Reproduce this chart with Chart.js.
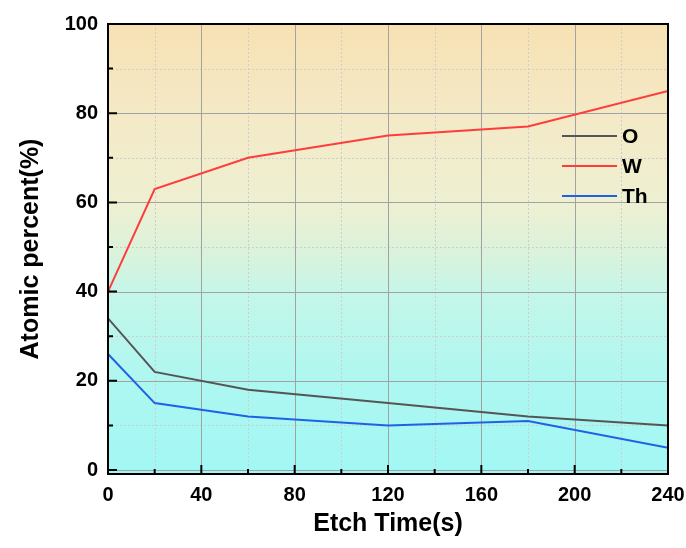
<!DOCTYPE html>
<html>
<head>
<meta charset="utf-8">
<script src="https://cdn.jsdelivr.net/npm/chart.js@4.4.1/dist/chart.umd.min.js"></script>
<style>
html, body { margin: 0; padding: 0; background: #fff; }
canvas { display: block; }
</style>
</head>
<body>
<canvas id="chart" width="686" height="548"></canvas>
<script>
// data
const etchTimes = [0, 20, 60, 120, 180, 240];
const oxygen = [34, 22, 18, 15, 12, 10];
const tungsten = [40, 63, 70, 75, 77, 85];
const thorium = [26, 15, 12, 10, 11, 5];

const xTicks = [0, 40, 80, 120, 160, 200, 240];
const xMinorTicks = [20, 60, 100, 140, 180, 220];
const yTicks = [0, 20, 40, 60, 80, 100];
const yMinorTicks = [10, 30, 50, 70, 90];

const seriesNames = ["O", "W", "Th"];
const seriesColors = ["#555555", "#ff3c3c", "#1f62e6"];

const FONT = "'Liberation Sans', Arial, sans-serif";

// background, grid, frame, ticks and legend
const framePlugin = {
    id: "frame",
    beforeDatasetsDraw(chart) {
        const { ctx, chartArea: a, scales: { x, y } } = chart;
        ctx.save();
        const g = ctx.createLinearGradient(0, a.top, 0, a.bottom);
        g.addColorStop(0, "#f7e1b3");
        g.addColorStop(0.2, "#f4e9c6");
        g.addColorStop(0.4, "#eef0d2");
        g.addColorStop(0.5, "#dcf2da");
        g.addColorStop(0.6, "#c4f6e9");
        g.addColorStop(0.8, "#adf7f1");
        g.addColorStop(1, "#a2f7f4");
        ctx.fillStyle = g;
        ctx.fillRect(a.left, a.top, a.right - a.left, a.bottom - a.top);

        // minor grid, dotted
        ctx.strokeStyle = "#cdcdcd";
        ctx.lineWidth = 1;
        ctx.setLineDash([2, 2]);
        ctx.beginPath();
        xMinorTicks.forEach((v) => {
            const px = Math.round(x.getPixelForValue(v)) + 0.5;
            ctx.moveTo(px, a.top);
            ctx.lineTo(px, a.bottom);
        });
        yMinorTicks.forEach((v) => {
            const py = Math.round(y.getPixelForValue(v)) + 0.5;
            ctx.moveTo(a.left, py);
            ctx.lineTo(a.right, py);
        });
        ctx.stroke();

        // major grid, solid
        ctx.setLineDash([]);
        ctx.strokeStyle = "#a2a2a2";
        ctx.beginPath();
        xTicks.forEach((v) => {
            const px = Math.round(x.getPixelForValue(v)) + 0.5;
            ctx.moveTo(px, a.top);
            ctx.lineTo(px, a.bottom);
        });
        yTicks.forEach((v) => {
            const py = Math.round(y.getPixelForValue(v)) + 0.5;
            ctx.moveTo(a.left, py);
            ctx.lineTo(a.right, py);
        });
        ctx.stroke();
        ctx.restore();
    },
    afterDatasetsDraw(chart) {
        const { ctx, chartArea: a, scales: { x, y } } = chart;
        ctx.save();
        ctx.strokeStyle = "#000";
        ctx.lineWidth = 2;
        ctx.strokeRect(a.left, a.top, a.right - a.left, a.bottom - a.top);

        // inward ticks
        ctx.beginPath();
        yTicks.forEach((v) => {
            const py = y.getPixelForValue(v);
            ctx.moveTo(a.left, py);
            ctx.lineTo(a.left + 9, py);
        });
        yMinorTicks.forEach((v) => {
            const py = y.getPixelForValue(v);
            ctx.moveTo(a.left, py);
            ctx.lineTo(a.left + 5, py);
        });
        xTicks.forEach((v) => {
            const px = x.getPixelForValue(v);
            ctx.moveTo(px, a.bottom);
            ctx.lineTo(px, a.bottom - 9);
        });
        xMinorTicks.forEach((v) => {
            const px = x.getPixelForValue(v);
            ctx.moveTo(px, a.bottom);
            ctx.lineTo(px, a.bottom - 5);
        });
        ctx.stroke();

        // legend inside the plot
        ctx.font = "bold 21px " + FONT;
        ctx.textBaseline = "middle";
        ctx.textAlign = "left";
        seriesNames.forEach((name, i) => {
            const ly = 136 + i * 30;
            ctx.strokeStyle = seriesColors[i];
            ctx.lineWidth = 2;
            ctx.beginPath();
            ctx.moveTo(562, ly);
            ctx.lineTo(617, ly);
            ctx.stroke();
            ctx.fillStyle = "#000";
            ctx.fillText(name, 622, ly + 1);
        });
        ctx.restore();
    },
};

const ctx = document.getElementById("chart").getContext("2d");

new Chart(ctx, {
    type: "line",
    data: {
        datasets: [oxygen, tungsten, thorium].map((vals, i) => ({
            label: seriesNames[i],
            data: etchTimes.map((t, j) => ({ x: t, y: vals[j] })),
            borderColor: seriesColors[i],
            borderWidth: 2,
            pointRadius: 0,
            tension: 0,
            fill: false,
        })),
    },
    options: {
        responsive: false,
        animation: false,
        layout: { padding: { top: 24, right: 18, left: 0, bottom: 0 } },
        plugins: {
            legend: { display: false },
            tooltip: { enabled: false },
        },
        scales: {
            x: {
                type: "linear",
                min: 0,
                max: 240,
                afterBuildTicks: (s) => {
                    s.ticks = xTicks.map((v) => ({ value: v }));
                },
                afterFit: (s) => {
                    s.height = 74;
                    s.paddingLeft = 0;
                    s.paddingRight = 0;
                },
                grid: { display: false, drawTicks: false },
                border: { display: false },
                ticks: {
                    color: "#000",
                    font: { family: FONT, size: 20, weight: "bold" },
                    padding: 9,
                    maxRotation: 0,
                    autoSkip: false,
                },
                title: {
                    display: true,
                    text: "Etch Time(s)",
                    color: "#000",
                    font: { family: FONT, size: 25, weight: "bold" },
                    padding: { top: 0, bottom: 9 },
                },
            },
            y: {
                type: "linear",
                min: -0.9,
                max: 100,
                afterBuildTicks: (s) => {
                    s.ticks = yTicks.map((v) => ({ value: v }));
                },
                afterFit: (s) => {
                    s.width = 108;
                    s.paddingTop = 0;
                    s.paddingBottom = 0;
                },
                grid: { display: false, drawTicks: false },
                border: { display: false },
                ticks: {
                    color: "#000",
                    font: { family: FONT, size: 20, weight: "bold" },
                    padding: 10,
                },
                title: {
                    display: true,
                    text: "Atomic percent(%)",
                    color: "#000",
                    font: { family: FONT, size: 25, weight: "bold" },
                    padding: { top: 16, bottom: 0 },
                },
            },
        },
    },
    plugins: [framePlugin],
});
</script>
</body>
</html>
